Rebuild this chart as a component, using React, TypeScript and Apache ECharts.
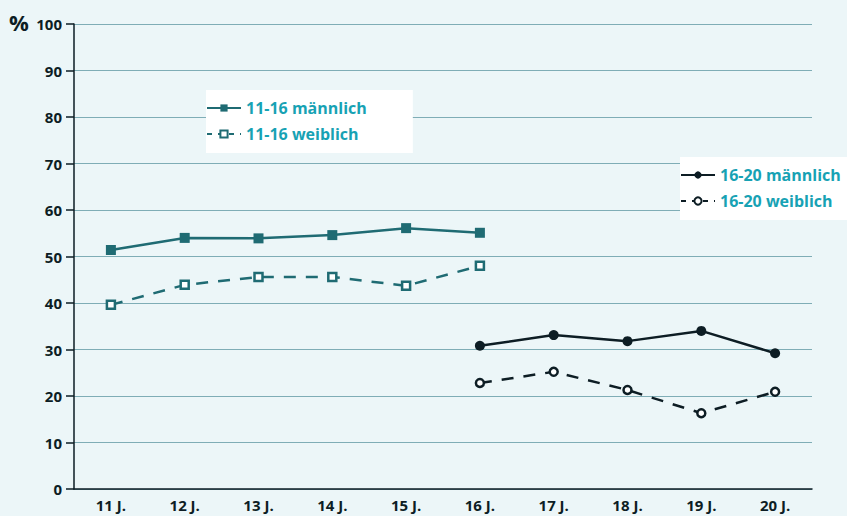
import React, { useEffect, useRef } from "react";
import * as echarts from "echarts";

const categories = ["11 J.", "12 J.", "13 J.", "14 J.", "15 J.", "16 J.", "17 J.", "18 J.", "19 J.", "20 J."];
const m1116 = [51.4, 54.0, 53.9, 54.6, 56.1, 55.1, null, null, null, null];
const w1116 = [39.6, 43.9, 45.6, 45.6, 43.7, 48.0, null, null, null, null];
const m1620 = [null, null, null, null, null, 30.8, 33.1, 31.8, 34.0, 29.2];
const w1620 = [null, null, null, null, null, 22.8, 25.2, 21.3, 16.3, 20.9];

const TEAL = "#1f6b73";
const DARK = "#0d1d24";
const BG = "#ecf6f8";
const LEG = "#17a2b4";
const FONT = "'Open Sans', sans-serif";
const DASH = [12, 10];

export default function App() {
  const ref = useRef<HTMLDivElement>(null);
  useEffect(() => {
    const chart = echarts.init(ref.current!, null, { renderer: "svg" });
    const legText = { color: LEG, fontFamily: FONT, fontWeight: "bold", fontSize: 16 };
    chart.setOption({
      animation: false,
      backgroundColor: BG,
      grid: { left: 74, right: 35, top: 24, bottom: 27 },
      graphic: [
        {
          type: "text",
          left: 9,
          top: 11,
          style: { text: "%", font: `bold 22px ${FONT}`, fill: DARK },
        },
      ],
      legend: [
        {
          data: [
            { name: "11-16 männlich" },
            { name: "11-16 weiblich", lineStyle: { type: [5, 6] } },
          ],
          orient: "vertical",
          left: 206,
          top: 90,
          backgroundColor: "#ffffff",
          padding: [10, 46, 11, 0],
          itemWidth: 34,
          itemHeight: 9,
          itemGap: 10,
          textStyle: legText,
        },
        {
          data: [
            { name: "16-20 männlich" },
            { name: "16-20 weiblich", lineStyle: { type: [5, 6] } },
          ],
          orient: "vertical",
          left: 680,
          top: 157,
          backgroundColor: "#ffffff",
          padding: [10, 20, 11, 0],
          itemWidth: 34,
          itemHeight: 9,
          itemGap: 10,
          textStyle: legText,
        },
      ],
      xAxis: {
        type: "category",
        data: categories,
        boundaryGap: true,
        axisLine: { lineStyle: { color: DARK, width: 1.5 } },
        axisTick: { length: 8, interval: 0, lineStyle: { color: DARK, width: 1.5 } },
        axisLabel: { color: DARK, fontFamily: FONT, fontWeight: "bold", fontSize: 15, margin: 8 },
      },
      yAxis: {
        type: "value",
        min: 0,
        max: 100,
        interval: 10,
        axisLine: { show: true, lineStyle: { color: DARK, width: 1.5 } },
        axisTick: { show: true, length: 8, lineStyle: { color: DARK, width: 1.5 } },
        axisLabel: { color: DARK, fontFamily: FONT, fontWeight: "bold", fontSize: 15, margin: 12 },
        splitLine: { lineStyle: { color: "#7fadb6", width: 1 } },
      },
      series: [
        {
          name: "11-16 männlich",
          type: "line",
          data: m1116,
          symbol: "rect",
          symbolSize: 10,
          itemStyle: { color: TEAL },
          lineStyle: { color: TEAL, width: 2.5 },
        },
        {
          name: "11-16 weiblich",
          type: "line",
          data: w1116,
          symbol: "rect",
          symbolSize: 8,
          itemStyle: { color: "#ffffff", borderColor: TEAL, borderWidth: 2.5 },
          lineStyle: { color: TEAL, width: 2.5, type: DASH },
        },
        {
          name: "16-20 männlich",
          type: "line",
          data: m1620,
          symbol: "circle",
          symbolSize: 10,
          itemStyle: { color: DARK },
          lineStyle: { color: DARK, width: 2.5 },
        },
        {
          name: "16-20 weiblich",
          type: "line",
          data: w1620,
          symbol: "circle",
          symbolSize: 8,
          itemStyle: { color: "#ffffff", borderColor: DARK, borderWidth: 2.5 },
          lineStyle: { color: DARK, width: 2.5, type: DASH },
        },
      ],
    });
    return () => chart.dispose();
  }, []);
  return (
    <div
      ref={ref}
      style={{ position: "fixed", left: 0, top: 0, width: 847, height: 516 }}
    />
  );
}
